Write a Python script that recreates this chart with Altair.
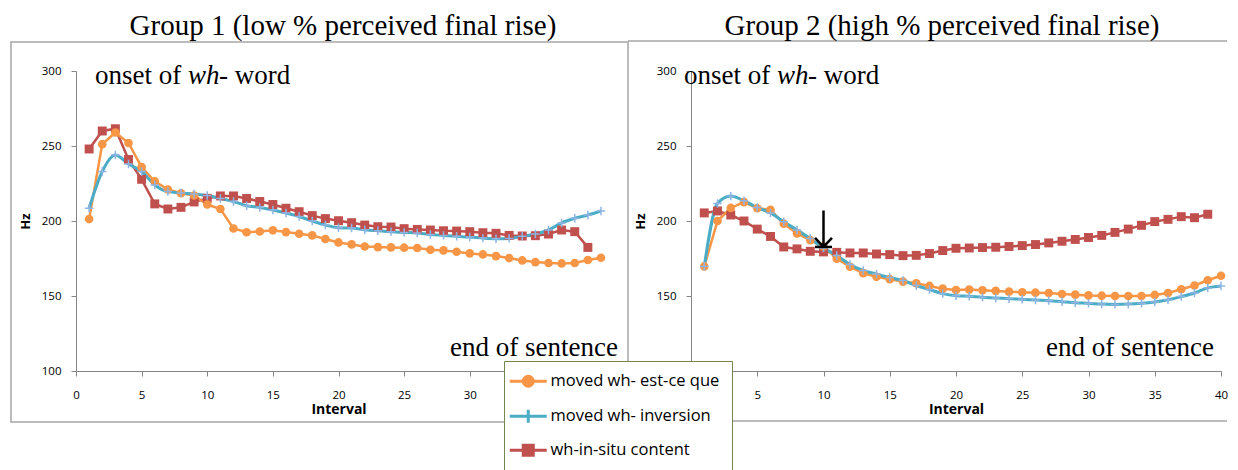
import altair as alt
import pandas as pd

# ---------------- data ----------------
intervals = list(range(1, 41))
series_names = ["moved wh- est-ce que", "moved wh- inversion", "wh-in-situ content"]
series_colors = ["#F79646", "#4BACC6", "#C0504D"]
cross_color = "#8EB4E3"

g1_estce = [201.3, 251.2, 259, 252, 235.9, 226.5, 221, 218.5, 217, 211,
            208, 195, 192.5, 193, 193.8, 192.6, 191.5, 190.4, 188, 185.7,
            184.4, 183, 182.6, 182.4, 182.2, 182, 180.8, 180.4, 179.5, 178.4,
            177.7, 176.6, 175.3, 173.7, 172.6, 172, 171.7, 172, 174, 175.5]
g1_inversion = [208.5, 233, 244, 238, 233, 224, 219.6, 218.7, 218, 217,
                215, 213, 210.2, 209, 207.3, 205.3, 203, 200, 197.3, 195.5,
                195.3, 194.2, 193.5, 192.9, 192.4, 192, 191, 190.4, 189.8, 189.3,
                188.6, 188.2, 188.4, 189.8, 191.3, 194, 198.7, 201.8, 204, 206.7]
g1_insitu = [248, 260, 261.5, 241, 227.8, 211.4, 208, 209.1, 212.7, 215.1,
             216.7, 216.7, 215, 213, 211, 208.5, 206.2, 203.6, 201.6, 200.2,
             198.9, 197.3, 196.2, 196, 194.9, 194.4, 194, 193.5, 193.3, 192.9,
             192.2, 191.8, 190.4, 190, 190.2, 191.3, 194, 192.9, 182.4]

g2_estce = [169.7, 200, 208.7, 212.6, 208.5, 207.4, 198.2, 191.7, 187.2, 183,
            174.9, 169.5, 165.2, 162.8, 161.2, 159.6, 158.5, 156.7, 154.9, 154,
            154.3, 153.8, 153.4, 152.9, 152.5, 152.2, 152, 151.3, 150.9, 150.4,
            150.2, 150, 150, 150, 150.7, 152, 154.5, 157, 160.5, 163.5]
g2_inversion = [169.7, 211.7, 216.6, 213.5, 209, 205.4, 199.5, 194, 188.3, 182,
                177, 171, 167, 164.6, 162.3, 160.3, 157, 154.3, 151.6, 150.2,
                149.8, 149.1, 148.7, 148.2, 147.8, 147.3, 146.9, 146.2, 145.5, 145.1,
                144.6, 144.4, 144.6, 145.1, 146, 147.5, 149.6, 152, 155.4, 156.7]
g2_insitu = [205.4, 206.7, 204, 200, 194.6, 189.7, 182.7, 181.4, 179.8, 179.4,
             179.1, 178.7, 178.7, 178, 177.6, 176.9, 177.1, 178.3, 180.3, 181.8,
             182, 182.3, 182.5, 183, 183.6, 184.3, 185.4, 186.5, 187.7, 189,
             190.4, 192.4, 194.6, 197.1, 199.6, 201.1, 202.9, 202.2, 204.5]

panel_titles = ["Group 1 (low % perceived final rise)",
                "Group 2 (high % perceived final rise)"]
x_ticks = [0, 5, 10, 15, 20, 25, 30, 35, 40]
y_ticks = [100, 150, 200, 250, 300]

# arrow annotation (group 2) in data units
arrow_x = 10
arrow_top = 207
arrow_tip = 182.7
head_dx = 0.64
head_dy = 6


def long_df(est, inv, situ):
    rows = []
    for name, vals in zip(series_names, [est, inv, situ]):
        for i, v in zip(intervals, vals):
            rows.append({"series": name, "interval": i, "hz": v})
    return pd.DataFrame(rows)


# ---------------- legend ----------------
CIRCLE = "M-3.7,0H3.7M1,0A1,1,0,1,1,-1,0A1,1,0,1,1,1,0Z"
CROSS = "M-3.7,0H3.7M0,-1.3V1.3"
SQUARE = "M-3.7,0H3.7M-1,-1H1V1H-1Z"
shape_expr = (f"datum.value === '{series_names[0]}' ? '{CIRCLE}' : "
              f"datum.value === '{series_names[1]}' ? '{CROSS}' : '{SQUARE}'")
col_expr = (f"datum.value === '{series_names[0]}' ? '{series_colors[0]}' : "
            f"datum.value === '{series_names[1]}' ? '{series_colors[1]}' : '{series_colors[2]}'")

legend = alt.Legend(
    title=None, orient="none", legendX=428, legendY=290, direction="vertical",
    fillColor="white", strokeColor="#76864F", padding=12,
    symbolOffset=4, labelOffset=14, rowPadding=10, symbolSize=100,
    symbolType={"expr": shape_expr},
    symbolFillColor={"expr": col_expr},
    symbolStrokeColor={"expr": col_expr},
    symbolStrokeWidth=3, symbolOpacity=1,
    labelFont="Open Sans", labelFontSize=16.5, labelColor="black", labelLimit=400,
)


def panel(df, title, title_x, width, onset_x, end_x, box_layers, extra=None):
    base = alt.Chart(df)
    x = alt.X("interval:Q", scale=alt.Scale(domain=[0, 40], nice=False, zero=False),
              axis=alt.Axis(values=x_ticks, title="Interval", labelFlush=False))
    y = alt.Y("hz:Q", scale=alt.Scale(domain=[100, 300], nice=False, zero=False),
              axis=alt.Axis(values=y_ticks, title="Hz"))
    color = alt.Color("series:N", scale=alt.Scale(domain=series_names, range=series_colors),
                      legend=legend)

    def f(k):
        return alt.datum.series == series_names[k]

    l_est = base.transform_filter(f(0)).mark_line(strokeWidth=2.5).encode(x=x, y=y, color=color)
    l_inv = base.transform_filter(f(1)).mark_line(strokeWidth=3, interpolate="monotone").encode(x=x, y=y, color=color)
    l_sit = base.transform_filter(f(2)).mark_line(strokeWidth=2.5).encode(x=x, y=y, color=color)
    p_est = base.transform_filter(f(0)).mark_point(shape="circle", filled=True, size=75, opacity=1).encode(x=x, y=y, color=color)
    p_inv = base.transform_filter(f(1)).mark_point(shape="M-1,0H1M0,-1V1", filled=False, size=70,
                                                   stroke=cross_color, strokeWidth=1.5, opacity=1).encode(x=x, y=y)
    p_sit = base.transform_filter(f(2)).mark_point(shape="square", filled=True, size=80, opacity=1).encode(x=x, y=y, color=color)

    serif = dict(font="Liberation Serif", fontSize=27, color="black", baseline="alphabetic", align="left")
    t_df = lambda s: pd.DataFrame({"t": [s]})
    ttl = alt.Chart(t_df(title)).mark_text(font="Liberation Serif", fontSize=29, color="black",
                                            baseline="alphabetic", align="center").encode(
        x=alt.value(title_x), y=alt.value(-36), text="t:N")
    onset1 = alt.Chart(t_df("onset of")).mark_text(**serif).encode(x=alt.value(onset_x), y=alt.value(13), text="t:N")
    onset2 = alt.Chart(t_df("wh")).mark_text(fontStyle="italic", **serif).encode(x=alt.value(onset_x + 93), y=alt.value(13), text="t:N")
    onset3 = alt.Chart(t_df("- word")).mark_text(**serif).encode(x=alt.value(onset_x + 124), y=alt.value(13), text="t:N")
    serif_r = dict(serif)
    serif_r["align"] = "right"
    endt = alt.Chart(t_df("end of sentence")).mark_text(**serif_r).encode(x=alt.value(end_x), y=alt.value(285), text="t:N")

    layers = box_layers + [l_sit, l_est, l_inv, p_sit, p_est, p_inv, ttl, onset1, onset2, onset3, endt]
    if extra is not None:
        layers += extra
    return alt.layer(*layers).properties(width=width, height=300)


box_df = pd.DataFrame({"k": [0]})
left_box = [alt.Chart(box_df).mark_rect(fill="white", fillOpacity=0, stroke="#A6A6A6", strokeWidth=1.5).encode(
    x=alt.value(-65), x2=alt.value(552), y=alt.value(-29), y2=alt.value(351))]
right_box = [
    alt.Chart(box_df).mark_rule(color="#A6A6A6", strokeWidth=1.5).encode(
        x=alt.value(-63), x2=alt.value(536), y=alt.value(-30)),
    alt.Chart(box_df).mark_rule(color="#A6A6A6", strokeWidth=1.5).encode(
        x=alt.value(-63), x2=alt.value(536), y=alt.value(350)),
]

arrow_df = pd.DataFrame({
    "x": [arrow_x, arrow_x - head_dx, arrow_x + head_dx, arrow_x - head_dx],
    "x2": [arrow_x, arrow_x, arrow_x, arrow_x + head_dx],
    "y": [arrow_top, arrow_tip + head_dy, arrow_tip + head_dy, arrow_tip],
    "y2": [arrow_tip, arrow_tip, arrow_tip, arrow_tip],
})
arrow = alt.Chart(arrow_df).mark_rule(color="black", strokeWidth=2.5).encode(
    x="x:Q", x2="x2:Q", y="y:Q", y2="y2:Q")

left = panel(long_df(g1_estce, g1_inversion, g1_insitu), panel_titles[0], 267, 525, 19, 542, left_box)
right = panel(long_df(g2_estce, g2_inversion, g2_insitu), panel_titles[1], 251, 530, -7, 523, right_box, [arrow])

chart = alt.hconcat(left, right, spacing=90, bounds="flush").properties(
    padding={"left": 2, "top": 4, "right": 0, "bottom": 0}
).configure_view(strokeWidth=0).configure_axis(
    domainColor="#868686", tickColor="#868686", tickSize=5, grid=False,
    labelFont="Open Sans", labelFontSize=11.5, labelColor="black",
    titleFont="Open Sans", titleFontWeight="bold", titleFontSize=13, titleColor="black",
).configure_axisX(labelPadding=13, titlePadding=2, titleFontSize=14).configure_axisY(
    labelPadding=10, titlePadding=9)

chart.save("out.html", embed_options={"renderer": "svg", "actions": False})
